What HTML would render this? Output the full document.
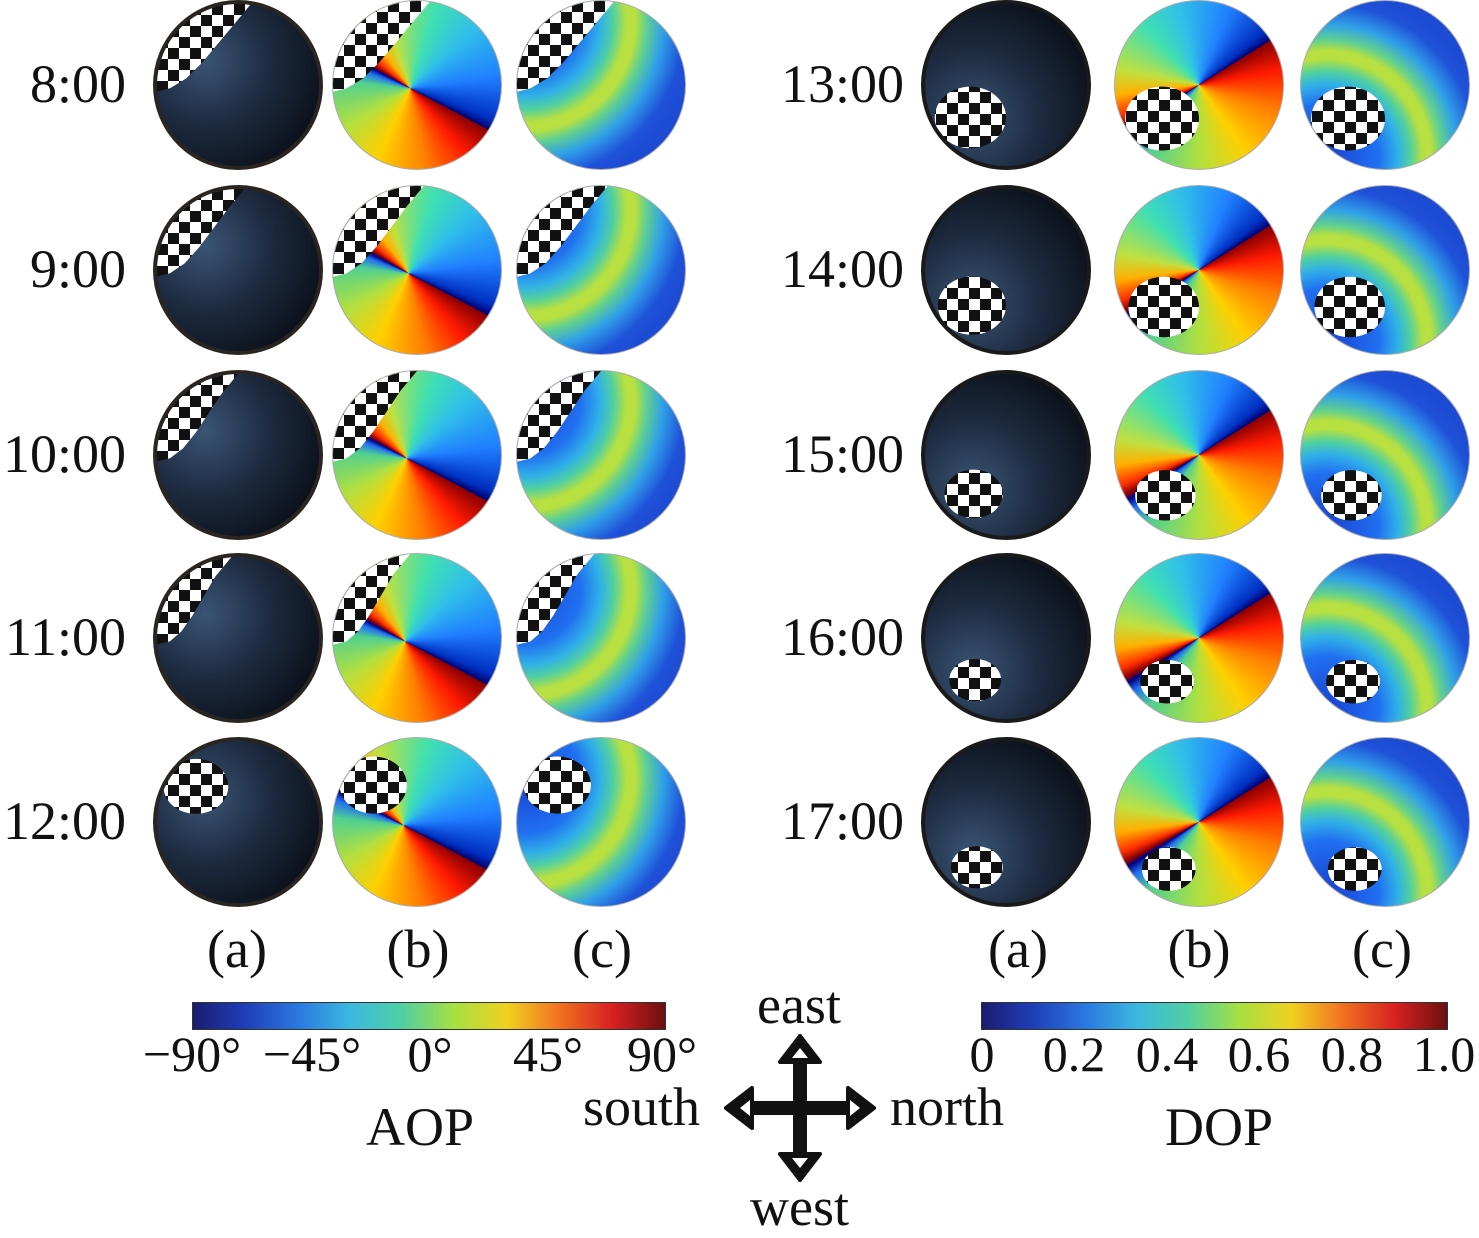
<!DOCTYPE html>
<html><head><meta charset="utf-8">
<style>
body{margin:0;width:1479px;height:1238px;background:#fff;position:relative;overflow:hidden;font-family:"Liberation Serif",serif;}
.c{position:absolute;border-radius:50%;overflow:hidden;box-sizing:border-box;}
.ck{position:absolute;inset:0;background:repeating-conic-gradient(#111 0 25%,#fff 0 50%) 0 0/22px 22px;}
.t{position:absolute;font-size:54px;color:#111;white-space:nowrap;line-height:1;}
.bar{position:absolute;height:26px;border:1px solid #333;background:linear-gradient(to right,#1b1b70,#1f3fb8,#2a78e0,#3cb8e0,#50d0a0,#a8e040,#f0d020,#f07020,#d82020,#6a1010);}
</style></head><body>
<div id="root"></div>
<svg style="position:absolute;left:0;top:0" width="1479" height="1238">
<g fill="#111" stroke="#111" stroke-linejoin="round">
<line x1="745" y1="1108" x2="855" y2="1108" stroke-width="14"/>
<line x1="800" y1="1052" x2="800" y2="1162" stroke-width="14"/>
<polygon points="726,1108 752,1088 752,1128" stroke-width="4"/>
<polygon points="874,1108 848,1088 848,1128" stroke-width="4"/>
<polygon points="800,1036 780,1062 820,1062" stroke-width="4"/>
<polygon points="800,1180 780,1154 820,1154" stroke-width="4"/>
</g>
<g fill="#fff"><polygon points="740,1108 750,1100 750,1116"/><polygon points="860,1108 850,1100 850,1116"/><polygon points="800,1048 792,1058 808,1058"/><polygon points="800,1168 792,1158 808,1158"/></g>
</svg>
<script>
const R=document.getElementById('root');let h='';
const ys=[85,270,455,638,822];
const L=['8:00','9:00','10:00','11:00','12:00'],Rl=['13:00','14:00','15:00','16:00','17:00'];
const d=170;
function aop(start,cx,cy){return `conic-gradient(from ${start}deg at ${cx}% ${cy}%,#8a0000,#ff1a00 6%,#ff8000 14%,#ffd000 24%,#b0e040 34%,#50d090 44%,#2070f0 48%,#000080 50%,#900000 51%,#ff3000 53%,#ffb000 57%,#c0e040 62%,#40e0b0 72%,#30c0e8 80%,#2080ff 90%,#0030c0 98%,#000070)`}
function dop(sx,sy,r){return `radial-gradient(circle at ${sx}% ${sy}%,#1a40d0 0,#2070f0 ${r*0.5}px,#30b0e8 ${r*0.68}px,#50d0a0 ${r*0.8}px,#b8e040 ${r*0.92}px,#b8e040 ${r*1.0}px,#60d090 ${r*1.1}px,#30a0e8 ${r*1.25}px,#1e50d8 ${r*1.45}px,#1a40c8 ${r*2}px)`}
function blobL(i){return i<4?`polygon(0 0,${58-i*4}% 0,${48-i*4}% 12%,${38-i*3}% 24%,${28-i*2}% 36%,${18-i}% 46%,${8}% 52%,0 54%)`:`ellipse(20% 17% at 24% 28%)`}
function blobR(i){let r=[22,21,18,16,16][i];return `ellipse(${r}% ${r-3}% at ${28+i}% ${70+i*2}%)`}
function circ(x,y,bg,border,clip){return `<div class="c" style="left:${x-d/2}px;top:${y-d/2}px;width:${d}px;height:${d}px;background:${bg};border:${border}"><div class="ck" style="clip-path:${clip}"></div></div>`}
ys.forEach((y,i)=>{
 h+=`<div class="t" style="right:${1479-126}px;top:${y-28}px">${L[i]}</div>`;
 h+=`<div class="t" style="right:${1479-904}px;top:${y-28}px">${Rl[i]}</div>`;
 h+=circ(238,y,'radial-gradient(circle at 30% 35%,#3a5575 0,#1e2c42 40%,#0c121c 78%,#050505 100%)','4px solid #2a2520',blobL(i));
 h+=circ(417,y,aop(118,46-i,52),'1px solid #aaa',blobL(i));
 h+=circ(601,y,dop(5,12+i*3,110),'1px solid #aaa',blobL(i));
 h+=circ(1006,y,'radial-gradient(circle at 30% 70%,#3a5575 0,#1e2c42 40%,#0c121c 78%,#050505 100%)','4px solid #1a1a1a',blobR(i));
 h+=circ(1199,y,aop(58,50,50),'1px solid #aaa',blobR(i));
 h+=circ(1385,y,dop(15,92,105),'1px solid #aaa',blobR(i));
});
[['(a)',237],['(b)',418],['(c)',602],['(a)',1018],['(b)',1199],['(c)',1382]].forEach(([s,x])=>{h+=`<div class="t" style="left:${x}px;top:922px;transform:translateX(-50%)">${s}</div>`});
h+=`<div class="bar" style="left:192px;top:1002px;width:472px"></div>`;
h+=`<div class="bar" style="left:981px;top:1002px;width:465px"></div>`;
[['−90°',192],['−45°',312],['0°',430],['45°',548],['90°',662]].forEach(([s,x])=>{h+=`<div class="t" style="left:${x}px;top:1029px;font-size:50px;transform:translateX(-50%)">${s}</div>`});
[['0',982],['0.2',1074],['0.4',1167],['0.6',1259],['0.8',1352],['1.0',1444]].forEach(([s,x])=>{h+=`<div class="t" style="left:${x}px;top:1029px;font-size:50px;transform:translateX(-50%)">${s}</div>`});
h+=`<div class="t" style="left:366px;top:1100px">AOP</div>`;
h+=`<div class="t" style="left:1165px;top:1100px">DOP</div>`;
h+=`<div class="t" style="left:583px;top:1080px">south</div>`;
h+=`<div class="t" style="left:890px;top:1080px">north</div>`;
h+=`<div class="t" style="left:757px;top:978px">east</div>`;
h+=`<div class="t" style="left:750px;top:1180px">west</div>`;
R.innerHTML=h;
</script>
</body></html>
